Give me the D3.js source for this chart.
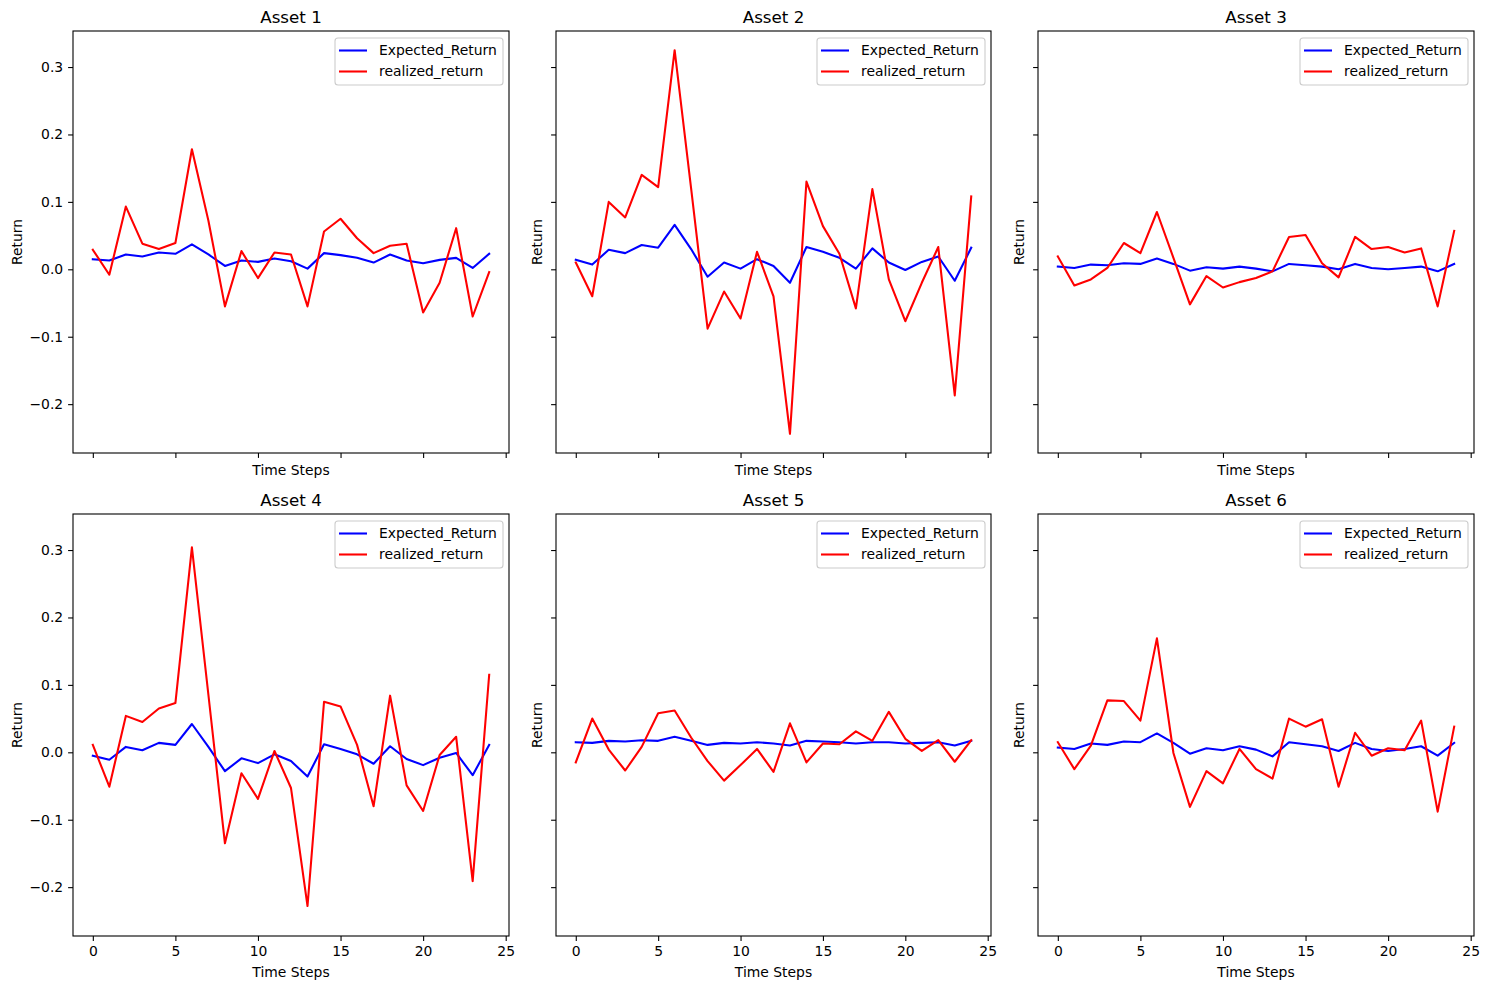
<!DOCTYPE html>
<html>
<head>
<meta charset="utf-8">
<script src="https://cdn.jsdelivr.net/npm/d3@7"></script>
<style>
body { margin: 0; background: #fff; }
text { font-family: "DejaVu Sans", sans-serif; }
</style>
</head>
<body>
<svg id="chart" width="1489" height="989"></svg>
<script>
// data
var steps = [0,1,2,3,4,5,6,7,8,9,10,11,12,13,14,15,16,17,18,19,20,21,22,23,24];
var assetNames = ["Asset 1", "Asset 2", "Asset 3", "Asset 4", "Asset 5", "Asset 6"];
var seriesNames = ["Expected_Return", "realized_return"];
var xTicks = [0, 5, 10, 15, 20, 25];
var yTicks = [-0.2, -0.1, 0.0, 0.1, 0.2, 0.3];

var expected1 = [0.015,0.013,0.022,0.019,0.025,0.023,0.037,0.022,0.005,0.013,0.011,0.016,0.012,0.001,0.024,0.021,0.017,0.010,0.022,0.013,0.009,0.014,0.017,0.002,0.023];
var realized1 = [0.029,-0.008,0.093,0.038,0.030,0.039,0.178,0.072,-0.055,0.027,-0.013,0.025,0.022,-0.055,0.056,0.075,0.046,0.024,0.035,0.038,-0.064,-0.020,0.061,-0.070,-0.004];

var expected2 = [0.014,0.007,0.029,0.024,0.036,0.032,0.066,0.030,-0.011,0.010,0.001,0.015,0.005,-0.020,0.033,0.026,0.017,0.001,0.031,0.010,-0.001,0.011,0.019,-0.017,0.032];
var realized2 = [0.010,-0.040,0.100,0.077,0.140,0.122,0.325,0.120,-0.088,-0.033,-0.073,0.026,-0.040,-0.244,0.130,0.064,0.023,-0.058,0.119,-0.015,-0.077,-0.020,0.033,-0.187,0.108];

var expected3 = [0.004,0.002,0.007,0.006,0.009,0.008,0.016,0.008,-0.002,0.003,0.001,0.004,0.001,-0.003,0.008,0.006,0.004,0.000,0.008,0.002,0.000,0.002,0.004,-0.003,0.008];
var realized3 = [0.019,-0.024,-0.015,0.002,0.039,0.024,0.085,0.017,-0.052,-0.010,-0.027,-0.019,-0.013,-0.003,0.048,0.051,0.009,-0.012,0.048,0.030,0.033,0.025,0.031,-0.055,0.057];

var expected4 = [-0.005,-0.011,0.008,0.003,0.014,0.011,0.042,0.008,-0.028,-0.009,-0.016,-0.003,-0.013,-0.036,0.012,0.005,-0.003,-0.017,0.009,-0.010,-0.019,-0.008,-0.001,-0.034,0.011];
var realized4 = [0.011,-0.051,0.054,0.045,0.065,0.073,0.304,0.085,-0.135,-0.031,-0.069,0.002,-0.053,-0.228,0.075,0.068,0.011,-0.080,0.084,-0.049,-0.087,-0.004,0.023,-0.191,0.115];

var expected5 = [0.015,0.014,0.017,0.016,0.018,0.017,0.023,0.017,0.011,0.014,0.013,0.015,0.013,0.010,0.017,0.016,0.015,0.013,0.015,0.015,0.013,0.014,0.015,0.010,0.017];
var realized5 = [-0.015,0.050,0.004,-0.027,0.008,0.058,0.062,0.022,-0.013,-0.042,-0.019,0.005,-0.029,0.043,-0.015,0.013,0.012,0.031,0.017,0.060,0.020,0.002,0.018,-0.014,0.018];

var expected6 = [0.007,0.005,0.013,0.011,0.016,0.015,0.028,0.014,-0.002,0.006,0.003,0.009,0.004,-0.006,0.015,0.012,0.009,0.002,0.014,0.005,0.002,0.005,0.009,-0.005,0.014];
var realized6 = [0.015,-0.025,0.010,0.077,0.076,0.047,0.169,-0.001,-0.081,-0.028,-0.046,0.005,-0.025,-0.039,0.050,0.038,0.049,-0.051,0.029,-0.005,0.006,0.003,0.047,-0.088,0.038];

var expectedAll = [expected1, expected2, expected3, expected4, expected5, expected6];
var realizedAll = [realized1, realized2, realized3, realized4, realized5, realized6];
var colors = ["#0000ff", "#ff0000"];

var svg = d3.select("#chart");
var colLeft = [73, 556, 1038];
var colWidth = [436, 435, 436];
var rowTop = [31, 514];
var plotH = 422;

// shared scales, matplotlib-like 5% margins
var xMin = d3.min(steps), xMax = d3.max(steps);
var xPad = (xMax - xMin) * 0.05;
var allVals = d3.merge(expectedAll.concat(realizedAll));
var yMin = d3.min(allVals), yMax = d3.max(allVals);
var yPad = (yMax - yMin) * 0.05;

var fmtY = d3.format(".1f");

assetNames.forEach(function(name, k) {
  var row = Math.floor(k / 3), col = k % 3;
  var left = colLeft[col], top = rowTop[row], w = colWidth[col];

  var x = d3.scaleLinear().domain([xMin - xPad, xMax + xPad]).range([left, left + w]);
  var y = d3.scaleLinear().domain([yMin - yPad, yMax + yPad]).range([top + plotH, top]);

  var g = svg.append("g");

  // lines
  var line = d3.line()
    .x(function(d, i) { return x(steps[i]); })
    .y(function(d) { return y(d); });

  [expectedAll[k], realizedAll[k]].forEach(function(s, j) {
    g.append("path")
      .datum(s)
      .attr("d", line)
      .attr("fill", "none")
      .attr("stroke", colors[j])
      .attr("stroke-width", 2.08)
      .attr("stroke-linejoin", "round")
      .attr("stroke-linecap", "square");
  });

  // axes
  var xAxis = d3.axisBottom(x).tickValues(xTicks).tickSize(4.9).tickPadding(4.9)
    .tickFormat(row === 1 ? d3.format("d") : function() { return ""; });
  var yAxis = d3.axisLeft(y).tickValues(yTicks).tickSize(4.9).tickPadding(4.9)
    .tickFormat(col === 0 ? fmtY : function() { return ""; });

  var gx = g.append("g").attr("transform", "translate(0," + (top + plotH) + ")").call(xAxis);
  var gy = g.append("g").attr("transform", "translate(" + left + ",0)").call(yAxis);
  [gx, gy].forEach(function(a) {
    a.select(".domain").remove();
    a.selectAll("line").attr("stroke", "#000").attr("stroke-width", 1.1);
    a.selectAll("text").attr("fill", "#000")
      .style("font-family", "'DejaVu Sans', sans-serif").style("font-size", "13.9px");
  });

  // frame
  g.append("rect")
    .attr("x", left).attr("y", top).attr("width", w).attr("height", plotH)
    .attr("fill", "none").attr("stroke", "#000").attr("stroke-width", 1.1);

  // title and axis labels
  g.append("text")
    .attr("x", left + w / 2).attr("y", top - 8.5)
    .attr("text-anchor", "middle")
    .style("font-size", "16.7px")
    .text(name);

  g.append("text")
    .attr("x", left + w / 2).attr("y", row === 1 ? top + plotH + 41 : top + plotH + 22)
    .attr("text-anchor", "middle")
    .style("font-size", "13.9px")
    .text("Time Steps");

  var labX = col === 0 ? left - 56 : left - 19;
  g.append("text")
    .attr("transform", "translate(" + labX + "," + (top + plotH / 2) + ") rotate(-90)")
    .attr("dy", "0.35em")
    .attr("text-anchor", "middle")
    .style("font-size", "13.9px")
    .text("Return");

  // legend
  var lgW = 168, lgH = 47;
  var lgX = left + w - 6 - lgW, lgY = top + 7;
  var lg = g.append("g");
  lg.append("rect")
    .attr("x", lgX).attr("y", lgY).attr("width", lgW).attr("height", lgH)
    .attr("rx", 3).attr("ry", 3)
    .attr("fill", "#fff").attr("fill-opacity", 0.8)
    .attr("stroke", "#cccccc").attr("stroke-width", 1.1);
  seriesNames.forEach(function(s, j) {
    var ly = lgY + 12.5 + j * 21;
    lg.append("line")
      .attr("x1", lgX + 4).attr("x2", lgX + 32)
      .attr("y1", ly).attr("y2", ly)
      .attr("stroke", colors[j]).attr("stroke-width", 2.08);
    lg.append("text")
      .attr("x", lgX + 44).attr("y", ly)
      .attr("dy", "0.35em")
      .style("font-size", "13.9px")
      .text(s);
  });
});
</script>
</body>
</html>
